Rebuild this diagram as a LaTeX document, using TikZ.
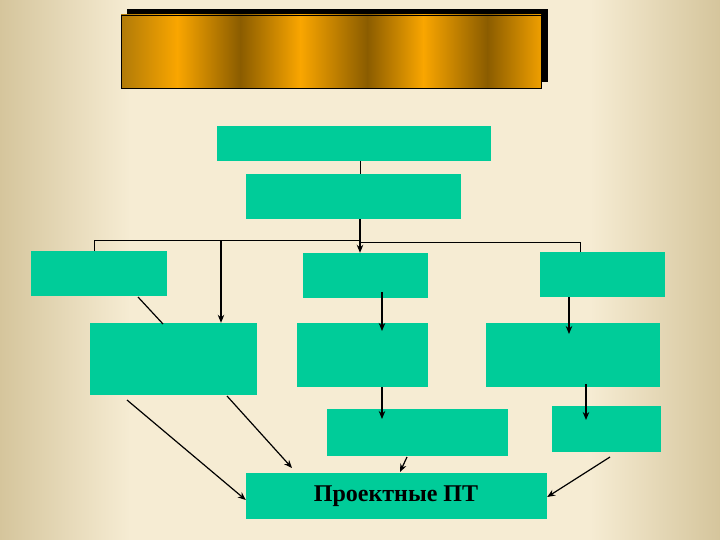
\documentclass[tikz,border=0pt]{standalone}
\usepackage{fontspec}
\setmainfont{Liberation Serif}
\usetikzlibrary{arrows.meta,calc}
\definecolor{tan}{HTML}{D5C59C}
\definecolor{cream}{HTML}{F6ECD3}
\definecolor{gfill}{HTML}{00CC99}
\definecolor{gbright}{HTML}{FAA600}
\definecolor{gdark}{HTML}{8A5C00}
\definecolor{gmid}{HTML}{B07A08}
\tikzset{
  gbox/.style={fill=gfill, draw=none, inner sep=0pt},
  conn/.style={line width=1.2pt, black},
  arr/.style={conn, -{Stealth[length=8pt,width=6.5pt]}},
}
\begin{document}
\begin{tikzpicture}[x=1pt,y=-1pt]
\useasboundingbox (0,0) rectangle (720,540);
% background
\fill[cream] (0,0) rectangle (720,540);
\shade[left color=tan, right color=cream] (0,0) rectangle (130,540);
\shade[left color=cream, right color=tan] (590,0) rectangle (720,540);
% title banner
\fill[black] (127,9) rectangle (548,82);
\shade[left color=gmid, right color=gbright] (121,15) rectangle (177.5,88);
\shade[left color=gbright, right color=gdark] (177,15) rectangle (240.5,88);
\shade[left color=gdark, right color=gbright] (240,15) rectangle (300.5,88);
\shade[left color=gbright, right color=gdark] (300,15) rectangle (367.5,88);
\shade[left color=gdark, right color=gbright] (367,15) rectangle (423.5,88);
\shade[left color=gbright, right color=gdark] (423,15) rectangle (487.5,88);
\shade[left color=gdark, right color=gbright!90!gdark] (487,15) rectangle (541,88);
\draw[black, line width=0.8pt] (121,15) rectangle (541,88);
% boxes
\node[gbox, minimum width=274pt, minimum height=35pt] (b1) at (354,143.5) {};
\node[gbox, minimum width=215pt, minimum height=45pt] (b2) at (353.5,196.5) {};
\node[gbox, minimum width=136pt, minimum height=45pt] (l) at (99,273.5) {};
\node[gbox, minimum width=125pt, minimum height=45pt] (m) at (365.5,275.5) {};
\node[gbox, minimum width=125pt, minimum height=45pt] (r) at (602.5,274.5) {};
\node[gbox, minimum width=167pt, minimum height=72pt] (l2) at (173.5,359) {};
\node[gbox, minimum width=131pt, minimum height=64pt] (m2) at (362.5,355) {};
\node[gbox, minimum width=174pt, minimum height=64pt] (r2) at (573,355) {};
\node[gbox, minimum width=181pt, minimum height=47pt] (m3) at (417.5,432.5) {};
\node[gbox, minimum width=109pt, minimum height=46pt] (r3) at (606.5,429) {};
\node[gbox, minimum width=301pt, minimum height=46pt] (pt) at (396.5,496) {};
\node[font=\bfseries\fontsize{24}{28}\selectfont, inner sep=0pt, anchor=base] (ptlabel) at (396,501) {Проектные ПТ};
% bus coordinates
\coordinate (busL) at (94,240);
\coordinate (busC) at (360,240);
\coordinate (busC2) at (360,242);
\coordinate (busR) at (580,242);
\coordinate (busM) at (221,240);
% connectors
\draw[line width=0.6pt] (b1.south -| busC) -- (b2.north -| busC);
\draw[arr] (b2.south -| busC) -- (m.north -| busC);
\draw[line width=0.9pt] (busL) -- (busC);
\draw[line width=0.9pt] (busL) -- (l.north -| busL);
\draw[line width=0.9pt] (busC2) -- (busR) -- (r.north -| busR);
\draw[arr] (busM) -- (l2.north -| busM);
\coordinate (lA) at (138,297);
\coordinate (lB) at (163,324);
\draw[conn] (lA) -- (lB);
\coordinate (mA) at (382,292);
\coordinate (mB) at (382,331);
\draw[arr] (mA) -- (mB);
\coordinate (rA) at (569,297);
\coordinate (rB) at (569,334);
\draw[arr] (rA) -- (rB);
\coordinate (m2A) at (382,387);
\coordinate (m2B) at (382,419);
\draw[arr] (m2A) -- (m2B);
\coordinate (r2A) at (586,384);
\coordinate (r2B) at (586,420);
\draw[arr, line width=1.8pt] (r2A) -- (r2B);
\coordinate (l2A) at (127,400);
\draw[arr] (l2A) -- (pt.west |- 0,500);
\coordinate (l2C) at (227,396);
\coordinate (l2D) at (292,468);
\draw[arr] (l2C) -- (l2D);
\coordinate (m3A) at (407,457);
\coordinate (m3B) at (400,472);
\draw[arr] (m3A) -- (m3B);
\coordinate (r3A) at (610,457);
\draw[arr] (r3A) -- (pt.east |- 0,497);
\end{tikzpicture}
\end{document}
